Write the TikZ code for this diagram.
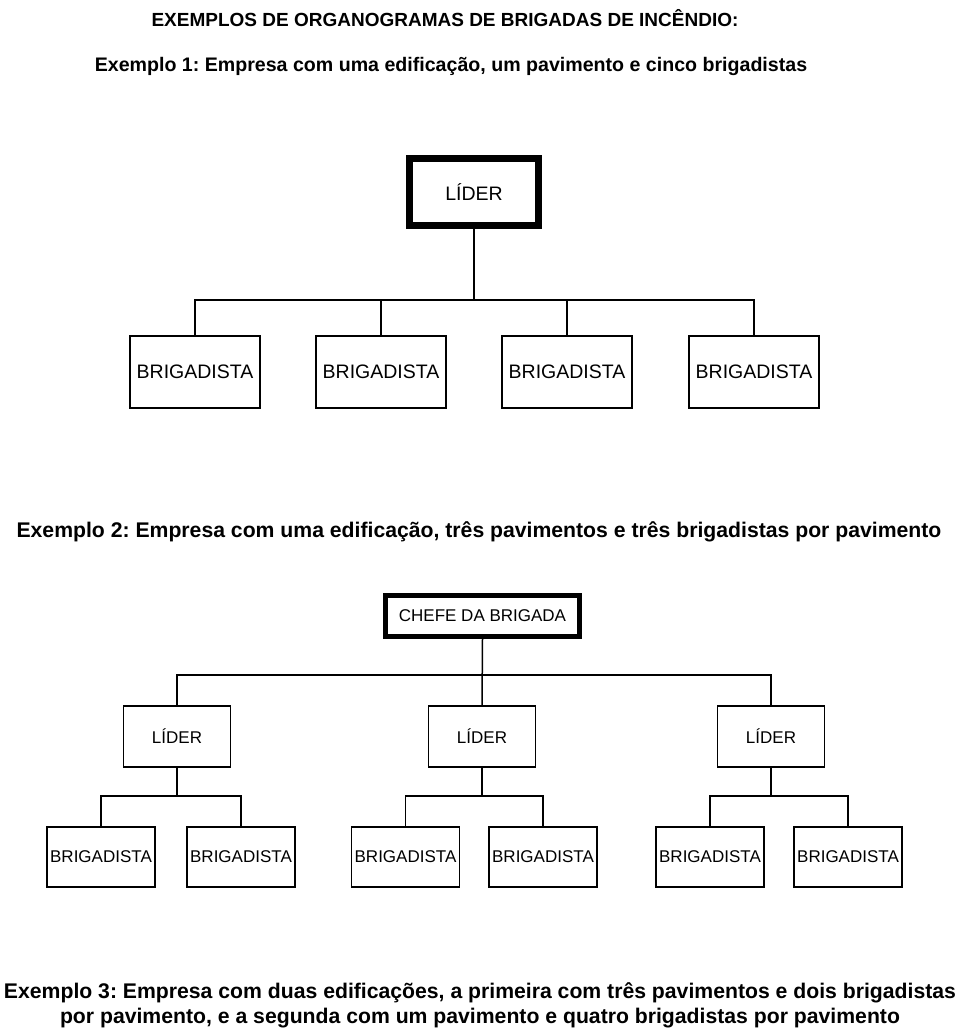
\documentclass[tikz,border=0pt]{standalone}
\usepackage{fontspec}
\setmainfont{Liberation Sans}
\frenchspacing
\begin{document}
\begin{tikzpicture}[x=1pt,y=-1pt,
  title/.style={font=\fontsize{19}{22}\selectfont\bfseries, inner sep=0pt},
  box/.style={draw, line width=1.5pt, inner sep=0pt, font=\fontsize{19.5}{22}\selectfont},
  topbox/.style={draw, line width=7pt, inner sep=0pt, minimum width=129pt, minimum height=67pt, font=\fontsize{19.5}{22}\selectfont},
  chefbox/.style={draw, line width=5pt, inner sep=0pt, minimum width=194pt, minimum height=41pt, font=\fontsize{17}{20}\selectfont},
  brigA/.style={box, minimum width=130pt, minimum height=72pt},
  liderB/.style={box, minimum width=107pt, minimum height=61pt, font=\fontsize{17}{20}\selectfont},
  brigB/.style={box, minimum width=108pt, minimum height=60pt, font=\fontsize{17}{20}\selectfont},
  conn/.style={line width=1.5pt}]
\useasboundingbox (0,0) rectangle (960,1030);
% titles
\node[title] (t0) at (445,18) {EXEMPLOS DE ORGANOGRAMAS DE BRIGADAS DE INCÊNDIO:};
\node[title, font=\fontsize{19.6}{22}\selectfont\bfseries] (t1) at (451,66) {Exemplo 1: Empresa com uma edificação, um pavimento e cinco brigadistas};
\node[title, font=\fontsize{21.2}{24}\selectfont\bfseries] (t2) at (479,532) {Exemplo 2: Empresa com uma edificação, três pavimentos e três brigadistas por pavimento};
\node[title, font=\fontsize{21.2}{24}\selectfont\bfseries] (t3a) at (480,993) {Exemplo 3: Empresa com duas edificações, a primeira com três pavimentos e dois brigadistas};
\node[title, font=\fontsize{21.2}{24}\selectfont\bfseries] (t3b) at (480,1018) {por pavimento, e a segunda com um pavimento e quatro brigadistas por pavimento};
% example 1
\node[topbox] (lider) at (474,192) {LÍDER};
\node[brigA] (b1) at (195,372) {BRIGADISTA};
\node[brigA] (b2) at (381,372) {BRIGADISTA};
\node[brigA] (b3) at (567,372) {BRIGADISTA};
\node[brigA] (b4) at (754,372) {BRIGADISTA};
\coordinate (bus1) at (474,300);
\draw[conn] (lider.south) -- (bus1);
\draw[conn] (b1.north) |- (bus1) -| (b4.north);
\draw[conn] (b2.north) -- (b2.north |- bus1);
\draw[conn] (b3.north) -- (b3.north |- bus1);
% example 2
\node[chefbox] (chefe) at (482.5,616) {CHEFE DA BRIGADA};
\node[liderB] (l1) at (177,736.5) {LÍDER};
\node[liderB] (l2) at (482,736.5) {LÍDER};
\node[liderB] (l3) at (771,736.5) {LÍDER};
\coordinate (bus2) at (482,675);
\draw[conn] (chefe.south) -- (l2.north);
\draw[conn] (l1.north) |- (bus2) -| (l3.north);
\node[brigB] (c1) at (101,857) {BRIGADISTA};
\node[brigB] (c2) at (241,857) {BRIGADISTA};
\node[brigB] (c3) at (405.5,857) {BRIGADISTA};
\node[brigB] (c4) at (543,857) {BRIGADISTA};
\node[brigB] (c5) at (710,857) {BRIGADISTA};
\node[brigB] (c6) at (848,857) {BRIGADISTA};
\coordinate (busA) at (177,796);
\coordinate (busB) at (482,796);
\coordinate (busC) at (771,796);
\draw[conn] (l1.south) -- (busA);
\draw[conn] (c1.north) |- (busA) -| (c2.north);
\draw[conn] (l2.south) -- (busB);
\draw[conn] (c3.north) |- (busB) -| (c4.north);
\draw[conn] (l3.south) -- (busC);
\draw[conn] (c5.north) |- (busC) -| (c6.north);
\end{tikzpicture}
\end{document}
